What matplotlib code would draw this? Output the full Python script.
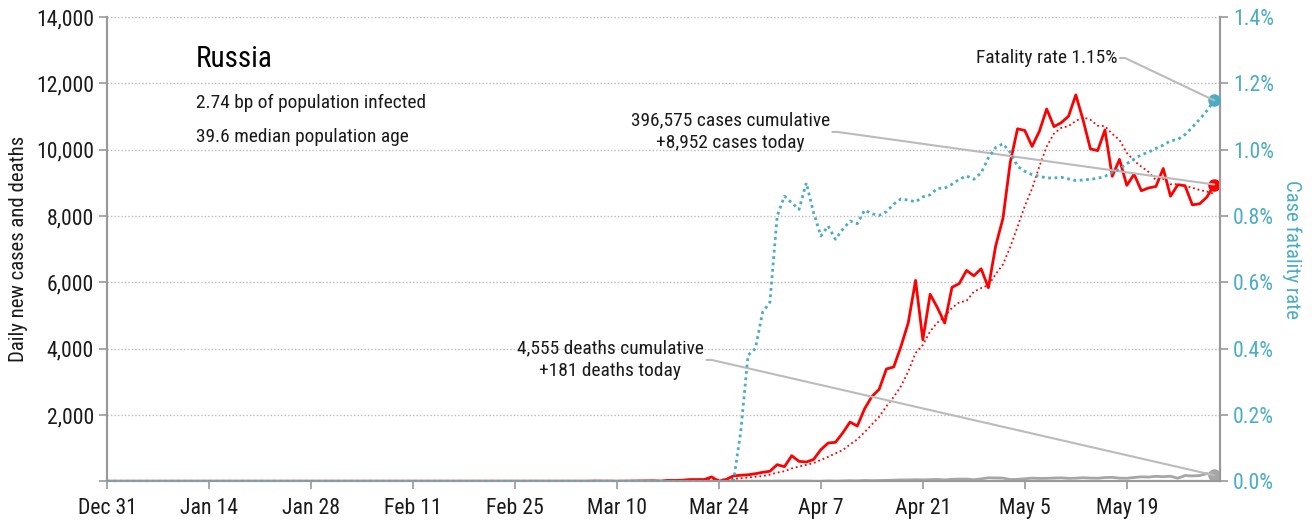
import matplotlib
matplotlib.use('Agg')
import matplotlib.pyplot as plt
from matplotlib import font_manager as fm
import pandas as pd

# the reference uses a condensed sans; take the best condensed face installed
prefer = ['Roboto Condensed', 'Liberation Sans Narrow', 'DejaVu Sans Condensed',
          'Noto Sans Condensed', 'Open Sans Condensed', 'Noto Sans', 'DejaVu Sans',
          'Open Sans']
found = {}
for f in fm.fontManager.ttflist:
    if f.style != 'normal':
        continue
    if 'Condensed' in f.name or 'Narrow' in f.name:
        found.setdefault(f.name, 'normal')
    elif f.stretch in ('condensed', 'semi-condensed') or f.stretch in (500, 600, 700):
        found.setdefault(f.name, f.stretch)
family, stretch = 'DejaVu Sans', 'normal'
for name in prefer:
    if name in found:
        family, stretch = name, found[name]
        break
plt.rcParams['font.family'] = [family, 'DejaVu Sans']
plt.rcParams['font.stretch'] = stretch

# data, one value per day from Dec 31 2019 to May 31 2020
start = '2019-12-31'
tick_labels = ['Dec 31', 'Jan 14', 'Jan 28', 'Feb 11', 'Feb 25', 'Mar 10',
               'Mar 24', 'Apr 7', 'Apr 21', 'May 5', 'May 19']

cases = [0] * 32 + [2] + [0] * 30 + [
    1, 0, 0, 1, 6, 3, 4, 0, 3, 8,
    6, 11, 14, 4, 27, 24, 33, 52, 54, 53,
    132, 0, 57, 163, 182, 196, 228, 270, 302, 501,
    440, 771, 601, 582, 658, 954, 1154, 1175, 1459, 1786,
    1667, 2186, 2558, 2774, 3388, 3448, 4070, 4785, 6060, 4268,
    5642, 5236, 4774, 5849, 5966, 6361, 6198, 6411, 5841, 7099,
    7933, 9623, 10633, 10581, 10102, 10559, 11231, 10699, 10817, 11012,
    11656, 10899, 10028, 9974, 10598, 9200, 9709, 8926, 9263, 8764,
    8849, 8894, 9434, 8599, 8946, 8915, 8338, 8371, 8572, 8952]

cases_avg = [0] * 32 + [0.3] * 7 + [0] * 24 + [
    0.1, 0.1, 0.1, 0.3, 1.1, 1.6, 2.1, 2.0, 2.4, 3.6,
    4.3, 5.0, 6.6, 6.6, 10.4, 13.4, 17.0, 23.6, 29.7, 35.3,
    53.6, 49.7, 54.4, 73.0, 91.6, 111.9, 136.9, 156.6, 199.7, 263.1,
    302.7, 386.9, 444.7, 495.3, 550.7, 643.9, 737.1, 842.1, 940.4, 1109.7,
    1264.7, 1483.0, 1712.1, 1943.6, 2259.7, 2543.9, 2870.1, 3315.6, 3869.0, 4113.3,
    4523.0, 4787.0, 4976.4, 5230.6, 5399.3, 5442.3, 5718.0, 5827.9, 5914.3, 6246.4,
    6544.1, 7066.6, 7676.9, 8303.0, 8830.3, 9504.3, 10094.6, 10489.7, 10660.3, 10714.4,
    10868.0, 10981.9, 10906.0, 10726.4, 10712.0, 10481.0, 10294.9, 9904.9, 9671.1, 9490.6,
    9329.9, 9086.4, 9119.9, 8961.3, 8964.1, 8914.4, 8853.6, 8785.3, 8739.3, 8670.4]

deaths = [0] * 87 + [
    1, 3, 1, 3, 2, 7,
    7, 6, 4, 9, 2, 2, 11, 5, 13, 18,
    12, 24, 18, 22, 28, 34, 41, 40, 48, 44,
    51, 57, 42, 60, 66, 66, 47, 73, 105, 101,
    96, 53, 58, 76, 95, 86, 88, 98, 104, 88,
    94, 107, 96, 93, 113, 119, 94, 91, 115, 135,
    127, 150, 139, 153, 92, 174, 161, 174, 232, 181]

# case fatality rate, percent
cfr = [0] * 87 + [
    0.15, 0.38, 0.40, 0.51, 0.54, 0.80,
    0.86, 0.84, 0.82, 0.90, 0.81, 0.74, 0.77, 0.73, 0.76, 0.785,
    0.777, 0.818, 0.807, 0.802, 0.813, 0.836, 0.852, 0.848, 0.843, 0.858,
    0.864, 0.884, 0.884, 0.896, 0.911, 0.921, 0.911, 0.930, 0.976, 1.007,
    1.018, 0.992, 0.950, 0.935, 0.925, 0.920, 0.915, 0.915, 0.917, 0.912,
    0.907, 0.909, 0.911, 0.914, 0.920, 0.932, 0.942, 0.958, 0.972, 0.985,
    0.993, 1.004, 1.014, 1.027, 1.031, 1.046, 1.068, 1.092, 1.118, 1.149]

RED = '#FF0000'
BLUE = '#4BACC6'
GRAY = '#A6A6A6'
TXT = '#1A1A1A'

dates = pd.date_range(start, periods=len(cases), freq='D')

fig = plt.figure(figsize=(13.12, 5.22), dpi=100, facecolor='white')
ax = fig.add_axes([0.0816, 0.0780, 0.8483, 0.8891])
ax2 = ax.twinx()

# text sizes: scale so the subtitle is as wide as in the reference (230 px)
probe = fig.text(0, 0, '2.74 bp of population infected', fontsize=14.5)
fig.canvas.draw()
k = min(1.1, max(0.75, 230 / probe.get_window_extent().width))
probe.remove()
FS = 14.5 * k
TICK = 14.5 * min(1.1, k * 1.12)

# gridlines
ax.set_yticks(range(0, 14001, 2000))
ax.grid(axis='y', linestyle=(0, (1, 1.5)), color='#BBBBBB', lw=1)
ax.set_axisbelow(True)

ax.plot(dates, deaths, color=GRAY, lw=2, zorder=3)
ax.plot(dates, cases_avg, color=RED, lw=1.3, linestyle=(0, (1, 1.6)), zorder=4)
ax.plot(dates, cases, color=RED, lw=2, zorder=5)
ax2.plot(dates, cfr, color=BLUE, lw=2, linestyle=(0, (1, 1.3)), zorder=3)

# end markers
ax.plot(dates[-1], cases[-1], 'o', color=RED, ms=8, zorder=6, clip_on=False)
ax.plot(dates[-1], deaths[-1], 'o', color=GRAY, ms=8, zorder=6, clip_on=False)
ax2.plot(dates[-1], cfr[-1], 'o', color=BLUE, ms=8, zorder=6, clip_on=False)

ax.set_xlim(dates[0], dates[0] + pd.Timedelta(days=152.8))
ax.set_ylim(0, 14000)
ax2.set_ylim(0, 1.4)

ax.set_xticks(dates[::14])
ax.set_xticklabels(tick_labels)
ax.set_yticklabels([''] + [f'{v:,}' for v in range(2000, 14001, 2000)])
ax2.set_yticks([i / 5 for i in range(8)])
ax2.set_yticklabels([f'{i / 5:.1f}%' for i in range(8)])

for a in (ax, ax2):
    a.spines['top'].set_visible(False)
    for s in ('left', 'right', 'bottom'):
        a.spines[s].set_color('#999999')
        a.spines[s].set_linewidth(1.5)
ax.tick_params(axis='both', colors='#999999', labelcolor=TXT, labelsize=TICK,
               length=6, width=1.2)
ax.tick_params(axis='x', pad=6)
ax2.tick_params(axis='y', colors='#999999', labelcolor=BLUE, labelsize=TICK,
                length=6, width=1.2)

ax.set_ylabel('Daily new cases and deaths', fontsize=FS * 1.07, color=TXT,
              va='center')
ax.yaxis.set_label_coords(-0.080, 0.5)
ax2.set_ylabel('Case fatality rate', fontsize=FS * 1.07, color=BLUE, rotation=270,
               va='center')
ax2.yaxis.set_label_coords(1.0647, 0.5)

# headline
ax.text(0.080, 0.893, 'Russia', transform=ax.transAxes, fontsize=FS * 1.5,
        color='black', va='baseline')
ax.text(0.080, 0.804, '2.74 bp of population infected', transform=ax.transAxes,
        fontsize=FS, color=TXT, va='baseline')
ax.text(0.080, 0.730, '39.6 median population age', transform=ax.transAxes,
        fontsize=FS, color=TXT, va='baseline')


def leader(axis, text, xy, xytext, ha):
    axis.annotate(text, xy=xy, xycoords='data', xytext=xytext,
                  textcoords='axes fraction', ha=ha, va='center',
                  fontsize=FS, color=TXT, linespacing=1.3, zorder=7,
                  arrowprops=dict(arrowstyle='-', color='#BBBBBB', lw=1.5,
                                  connectionstyle='arc,angleA=0,armA=8,rad=0',
                                  relpos=(1, 0.5), shrinkA=0, shrinkB=0))


leader(ax2, 'Fatality rate 1.15%', (dates[-1], cfr[-1]), (0.9075, 0.912), 'right')
leader(ax, '396,575 cases cumulative\n+8,952 cases today',
       (dates[-1], cases[-1]), (0.5598, 0.7527), 'center')
leader(ax, '4,555 deaths cumulative\n+181 deaths today',
       (dates[-1], deaths[-1]), (0.452, 0.2615), 'center')

fig.savefig('out.png', dpi=100, facecolor='white')
